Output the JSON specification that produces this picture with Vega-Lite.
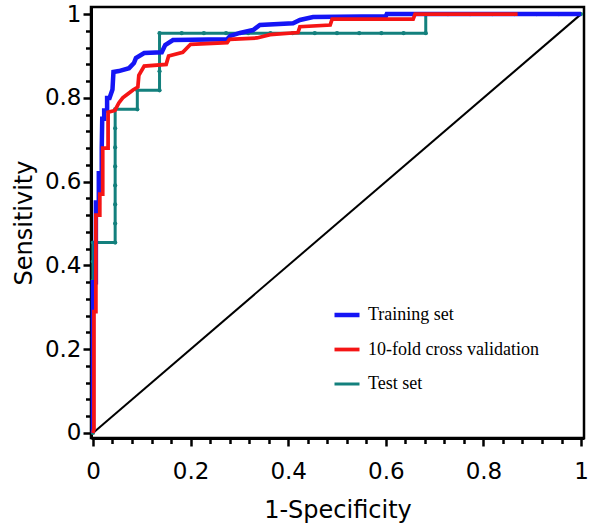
{
  "$schema": "https://vega.github.io/schema/vega-lite/v6.json",
  "width": 493,
  "height": 431,
  "autosize": {"type": "none"},
  "padding": {"left": 91, "top": 7, "right": 5, "bottom": 86},
  "background": "white",
  "config": {
    "view": {"stroke": "black", "strokeWidth": 2.5},
    "font": "DejaVu Sans"
  },
  "datasets": {
    "diag": [{"x": 0, "y": 0}, {"x": 1, "y": 1}],
    "roc": [
      {"s": "Test set", "i": 1, "x": 0, "y": 0},
      {"s": "Test set", "i": 2, "x": 0, "y": 0.0455},
      {"s": "Test set", "i": 3, "x": 0, "y": 0.0909},
      {"s": "Test set", "i": 4, "x": 0, "y": 0.1364},
      {"s": "Test set", "i": 5, "x": 0, "y": 0.1818},
      {"s": "Test set", "i": 6, "x": 0, "y": 0.2273},
      {"s": "Test set", "i": 7, "x": 0, "y": 0.2727},
      {"s": "Test set", "i": 8, "x": 0, "y": 0.3182},
      {"s": "Test set", "i": 9, "x": 0, "y": 0.3636},
      {"s": "Test set", "i": 10, "x": 0, "y": 0.4091},
      {"s": "Test set", "i": 11, "x": 0, "y": 0.4545},
      {"s": "Test set", "i": 12, "x": 0.0455, "y": 0.4545},
      {"s": "Test set", "i": 13, "x": 0.0455, "y": 0.5},
      {"s": "Test set", "i": 14, "x": 0.0455, "y": 0.5455},
      {"s": "Test set", "i": 15, "x": 0.0455, "y": 0.5909},
      {"s": "Test set", "i": 16, "x": 0.0455, "y": 0.6364},
      {"s": "Test set", "i": 17, "x": 0.0455, "y": 0.6818},
      {"s": "Test set", "i": 18, "x": 0.0455, "y": 0.7273},
      {"s": "Test set", "i": 19, "x": 0.0455, "y": 0.7727},
      {"s": "Test set", "i": 20, "x": 0.0909, "y": 0.7727},
      {"s": "Test set", "i": 21, "x": 0.0909, "y": 0.8182},
      {"s": "Test set", "i": 22, "x": 0.1364, "y": 0.8182},
      {"s": "Test set", "i": 23, "x": 0.1364, "y": 0.8636},
      {"s": "Test set", "i": 24, "x": 0.1364, "y": 0.9091},
      {"s": "Test set", "i": 25, "x": 0.1364, "y": 0.9545},
      {"s": "Test set", "i": 26, "x": 0.1818, "y": 0.9545},
      {"s": "Test set", "i": 27, "x": 0.2273, "y": 0.9545},
      {"s": "Test set", "i": 28, "x": 0.2727, "y": 0.9545},
      {"s": "Test set", "i": 29, "x": 0.3182, "y": 0.9545},
      {"s": "Test set", "i": 30, "x": 0.3636, "y": 0.9545},
      {"s": "Test set", "i": 31, "x": 0.4091, "y": 0.9545},
      {"s": "Test set", "i": 32, "x": 0.4545, "y": 0.9545},
      {"s": "Test set", "i": 33, "x": 0.5, "y": 0.9545},
      {"s": "Test set", "i": 34, "x": 0.5455, "y": 0.9545},
      {"s": "Test set", "i": 35, "x": 0.5909, "y": 0.9545},
      {"s": "Test set", "i": 36, "x": 0.6364, "y": 0.9545},
      {"s": "Test set", "i": 37, "x": 0.6818, "y": 0.9545},
      {"s": "Test set", "i": 38, "x": 0.6818, "y": 1},
      {"s": "Test set", "i": 39, "x": 0.7273, "y": 1},
      {"s": "Test set", "i": 40, "x": 0.7727, "y": 1},
      {"s": "Test set", "i": 41, "x": 0.8182, "y": 1},
      {"s": "Test set", "i": 42, "x": 0.8636, "y": 1},
      {"s": "Test set", "i": 43, "x": 0.9091, "y": 1},
      {"s": "Test set", "i": 44, "x": 0.9545, "y": 1},
      {"s": "Test set", "i": 45, "x": 1, "y": 1},

      {"s": "Training set", "i": 1, "x": 0, "y": 0},
      {"s": "Training set", "i": 2, "x": 0, "y": 0.36},
      {"s": "Training set", "i": 3, "x": 0.006, "y": 0.36},
      {"s": "Training set", "i": 4, "x": 0.006, "y": 0.55},
      {"s": "Training set", "i": 5, "x": 0.012, "y": 0.55},
      {"s": "Training set", "i": 6, "x": 0.012, "y": 0.62},
      {"s": "Training set", "i": 7, "x": 0.018, "y": 0.62},
      {"s": "Training set", "i": 8, "x": 0.018, "y": 0.68},
      {"s": "Training set", "i": 9, "x": 0.019, "y": 0.75},
      {"s": "Training set", "i": 10, "x": 0.023, "y": 0.75},
      {"s": "Training set", "i": 11, "x": 0.023, "y": 0.77},
      {"s": "Training set", "i": 12, "x": 0.029, "y": 0.77},
      {"s": "Training set", "i": 13, "x": 0.029, "y": 0.8},
      {"s": "Training set", "i": 14, "x": 0.034, "y": 0.8},
      {"s": "Training set", "i": 15, "x": 0.04, "y": 0.82},
      {"s": "Training set", "i": 16, "x": 0.042, "y": 0.862},
      {"s": "Training set", "i": 17, "x": 0.053, "y": 0.864},
      {"s": "Training set", "i": 18, "x": 0.074, "y": 0.871},
      {"s": "Training set", "i": 19, "x": 0.084, "y": 0.883},
      {"s": "Training set", "i": 20, "x": 0.088, "y": 0.895},
      {"s": "Training set", "i": 21, "x": 0.105, "y": 0.907},
      {"s": "Training set", "i": 22, "x": 0.141, "y": 0.909},
      {"s": "Training set", "i": 23, "x": 0.148, "y": 0.926},
      {"s": "Training set", "i": 24, "x": 0.164, "y": 0.938},
      {"s": "Training set", "i": 25, "x": 0.275, "y": 0.94},
      {"s": "Training set", "i": 26, "x": 0.281, "y": 0.948},
      {"s": "Training set", "i": 27, "x": 0.301, "y": 0.955},
      {"s": "Training set", "i": 28, "x": 0.328, "y": 0.962},
      {"s": "Training set", "i": 29, "x": 0.342, "y": 0.974},
      {"s": "Training set", "i": 30, "x": 0.41, "y": 0.978},
      {"s": "Training set", "i": 31, "x": 0.424, "y": 0.986},
      {"s": "Training set", "i": 32, "x": 0.451, "y": 0.993},
      {"s": "Training set", "i": 33, "x": 0.6, "y": 0.995},
      {"s": "Training set", "i": 34, "x": 0.602, "y": 1},
      {"s": "Training set", "i": 35, "x": 1, "y": 1},

      {"s": "10-fold cross validation", "i": 1, "x": 0, "y": 0},
      {"s": "10-fold cross validation", "i": 2, "x": 0.002, "y": 0.01},
      {"s": "10-fold cross validation", "i": 3, "x": 0.002, "y": 0.29},
      {"s": "10-fold cross validation", "i": 4, "x": 0.006, "y": 0.29},
      {"s": "10-fold cross validation", "i": 5, "x": 0.006, "y": 0.52},
      {"s": "10-fold cross validation", "i": 6, "x": 0.014, "y": 0.52},
      {"s": "10-fold cross validation", "i": 7, "x": 0.014, "y": 0.57},
      {"s": "10-fold cross validation", "i": 8, "x": 0.02, "y": 0.57},
      {"s": "10-fold cross validation", "i": 9, "x": 0.02, "y": 0.68},
      {"s": "10-fold cross validation", "i": 10, "x": 0.031, "y": 0.68},
      {"s": "10-fold cross validation", "i": 11, "x": 0.031, "y": 0.766},
      {"s": "10-fold cross validation", "i": 12, "x": 0.045, "y": 0.77},
      {"s": "10-fold cross validation", "i": 13, "x": 0.053, "y": 0.788},
      {"s": "10-fold cross validation", "i": 14, "x": 0.061, "y": 0.8},
      {"s": "10-fold cross validation", "i": 15, "x": 0.072, "y": 0.81},
      {"s": "10-fold cross validation", "i": 16, "x": 0.082, "y": 0.819},
      {"s": "10-fold cross validation", "i": 17, "x": 0.092, "y": 0.826},
      {"s": "10-fold cross validation", "i": 18, "x": 0.094, "y": 0.854},
      {"s": "10-fold cross validation", "i": 19, "x": 0.105, "y": 0.876},
      {"s": "10-fold cross validation", "i": 20, "x": 0.15, "y": 0.88},
      {"s": "10-fold cross validation", "i": 21, "x": 0.155, "y": 0.9},
      {"s": "10-fold cross validation", "i": 22, "x": 0.184, "y": 0.909},
      {"s": "10-fold cross validation", "i": 23, "x": 0.2, "y": 0.928},
      {"s": "10-fold cross validation", "i": 24, "x": 0.275, "y": 0.932},
      {"s": "10-fold cross validation", "i": 25, "x": 0.28, "y": 0.94},
      {"s": "10-fold cross validation", "i": 26, "x": 0.336, "y": 0.943},
      {"s": "10-fold cross validation", "i": 27, "x": 0.363, "y": 0.951},
      {"s": "10-fold cross validation", "i": 28, "x": 0.42, "y": 0.956},
      {"s": "10-fold cross validation", "i": 29, "x": 0.424, "y": 0.97},
      {"s": "10-fold cross validation", "i": 30, "x": 0.486, "y": 0.974},
      {"s": "10-fold cross validation", "i": 31, "x": 0.49, "y": 0.988},
      {"s": "10-fold cross validation", "i": 32, "x": 0.656, "y": 0.988},
      {"s": "10-fold cross validation", "i": 33, "x": 0.66, "y": 1},
      {"s": "10-fold cross validation", "i": 34, "x": 0.87, "y": 1}
    ]
  },
  "resolve": {"axis": {"x": "independent", "y": "independent"}},
  "layer": [
    {
      "data": {"name": "diag"},
      "mark": {"type": "line", "color": "black", "strokeWidth": 2},
      "encoding": {
        "x": {
          "field": "x", "type": "quantitative",
          "scale": {"domain": [-0.004, 1.006], "nice": false, "zero": false},
          "axis": {
            "orient": "bottom", "title": null, "labels": false, "domain": false, "grid": false,
            "values": [0.04, 0.08, 0.12, 0.16, 0.24, 0.28, 0.32, 0.36, 0.44, 0.48, 0.52, 0.56, 0.64, 0.68, 0.72, 0.76, 0.84, 0.88, 0.92, 0.96],
            "tickSize": 5.5, "tickColor": "black", "tickWidth": 2.5
          }
        },
        "y": {
          "field": "y", "type": "quantitative",
          "scale": {"domain": [-0.012, 1.017], "nice": false, "zero": false},
          "axis": {
            "orient": "left", "title": null, "labels": false, "domain": false, "grid": false,
            "values": [0.04, 0.08, 0.12, 0.16, 0.24, 0.28, 0.32, 0.36, 0.44, 0.48, 0.52, 0.56, 0.64, 0.68, 0.72, 0.76, 0.84, 0.88, 0.92, 0.96],
            "tickSize": 5.5, "tickColor": "black", "tickWidth": 2.5
          }
        }
      }
    },
    {
      "data": {"name": "roc"},
      "transform": [{"filter": "datum.s === 'Test set'"}],
      "mark": {"type": "point", "filled": true, "size": 18, "opacity": 1, "color": "#13807d"},
      "encoding": {
        "x": {"field": "x", "type": "quantitative", "scale": {"domain": [-0.004, 1.006], "nice": false, "zero": false}, "axis": null},
        "y": {"field": "y", "type": "quantitative", "scale": {"domain": [-0.012, 1.017], "nice": false, "zero": false}, "axis": null}
      }
    },
    {
      "data": {"name": "roc"},
      "mark": {"type": "line", "strokeJoin": "miter"},
      "encoding": {
        "x": {
          "field": "x", "type": "quantitative",
          "scale": {"domain": [-0.004, 1.006], "nice": false, "zero": false},
          "axis": {
            "orient": "bottom",
            "title": "1-Specificity",
            "values": [0, 0.2, 0.4, 0.6, 0.8, 1],
            "format": "~g",
            "tickSize": 8,
            "domainColor": "black", "domainWidth": 3,
            "tickColor": "black", "tickWidth": 2.5,
            "labelFont": "DejaVu Sans", "labelFontSize": 23, "labelColor": "black",
            "labelPadding": 14, "labelFlush": false, "labelOverlap": false,
            "titleFont": "DejaVu Sans", "titleFontSize": 24, "titleFontWeight": "normal", "titleColor": "black",
            "titlePadding": 15,
            "grid": false
          }
        },
        "y": {
          "field": "y", "type": "quantitative",
          "scale": {"domain": [-0.012, 1.017], "nice": false, "zero": false},
          "axis": {
            "orient": "left",
            "title": "Sensitivity",
            "values": [0, 0.2, 0.4, 0.6, 0.8, 1],
            "format": "~g",
            "tickSize": 8,
            "domainColor": "black", "domainWidth": 3,
            "tickColor": "black", "tickWidth": 2.5,
            "labelFont": "DejaVu Sans", "labelFontSize": 23, "labelColor": "black",
            "labelPadding": 2, "labelFlush": false, "labelOverlap": false,
            "titleFont": "DejaVu Sans", "titleFontSize": 24, "titleFontWeight": "normal", "titleColor": "black",
            "titlePadding": 8,
            "grid": false
          }
        },
        "color": {
          "field": "s", "type": "nominal",
          "scale": {
            "domain": ["Training set", "10-fold cross validation", "Test set"],
            "range": ["#1515f5", "#f51515", "#13807d"]
          },
          "legend": {
            "title": null,
            "orient": "none",
            "legendX": 241,
            "legendY": 293,
            "padding": 0,
            "symbolType": "stroke",
            "symbolSize": 625,
            "symbolStrokeWidth": 3,
            "labelFont": "Liberation Serif",
            "labelFontSize": 18,
            "labelColor": "black",
            "labelOffset": 6,
            "rowPadding": 11,
            "labelLimit": 300
          }
        },
        "strokeWidth": {
          "field": "s", "type": "nominal",
          "scale": {
            "domain": ["Training set", "10-fold cross validation", "Test set"],
            "range": [4.5, 3, 2.5]
          },
          "legend": null
        },
        "order": {"field": "i", "type": "quantitative"}
      }
    }
  ]
}
